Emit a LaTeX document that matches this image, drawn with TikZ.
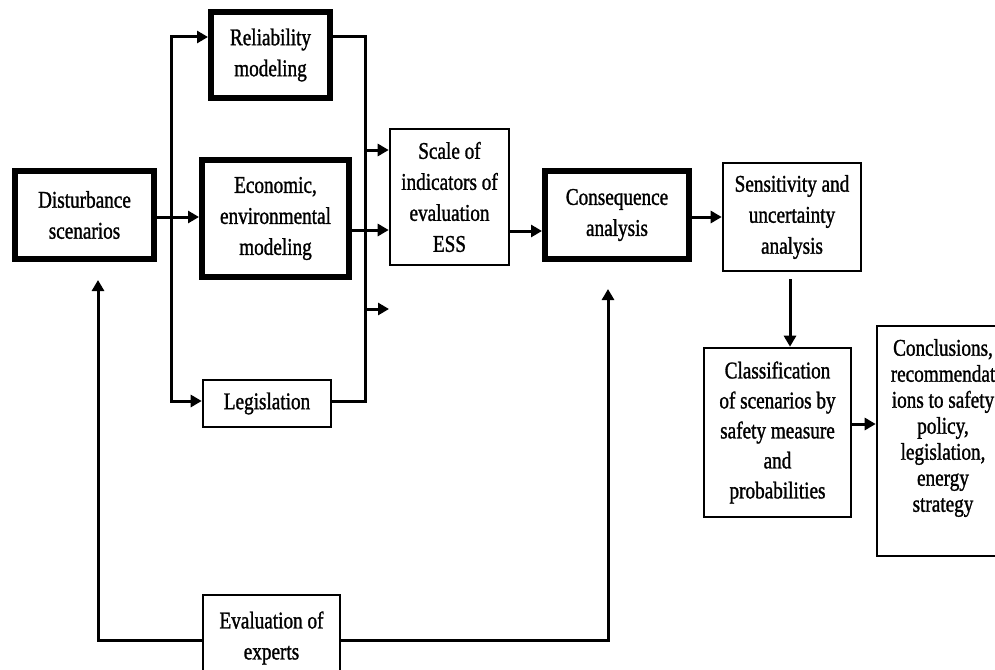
\documentclass[tikz,border=0pt]{standalone}
\usepackage{fontspec}
\setmainfont{Liberation Serif}[FakeStretch=0.8,FakeBold=1.2]
\usetikzlibrary{arrows.meta}
\begin{document}
\begin{tikzpicture}[x=1pt,y=-1pt,
  thickbox/.style={draw,line width=6pt,align=center,inner sep=0pt},
  thinbox/.style={draw,line width=2.6pt,align=center,inner sep=0pt},
  conn/.style={line width=3pt},
  arr/.style={conn,-{Triangle[length=11pt,width=12pt]}},
  font=\fontsize{24}{31}\selectfont]
\clip (0,0) rectangle (995,669);
\fill[white] (0,0) rectangle (995,669);

\node[thickbox,minimum width=139pt,minimum height=88pt] (dist) at (84.5,215) {Disturbance\\scenarios};
\node[thickbox,minimum width=119pt,minimum height=86pt] (rel) at (270.5,55) {Reliability\\modeling};
\node[thickbox,minimum width=147pt,minimum height=117pt] (econ) at (275.5,218.5) {Economic,\\environmental\\modeling};
\node[thinbox,minimum width=128pt,minimum height=47pt] (leg) at (267,403.5) {Legislation};
\node[thinbox,minimum width=119pt,minimum height=136pt] (scale) at (449.5,197) {Scale of\\indicators of\\evaluation\\ESS};
\node[thickbox,minimum width=144pt,minimum height=88pt] (cons) at (617,215) {Consequence\\analysis};
\node[thinbox,minimum width=138pt,minimum height=108pt] (sens) at (792,217) {Sensitivity and\\uncertainty\\analysis};
\node[thinbox,minimum width=147pt,minimum height=169pt,font=\fontsize{24}{30}\selectfont] (class) at (777.5,432.5) {Classification\\of scenarios by\\safety measure\\and\\probabilities};
\node[thinbox,minimum width=132pt,minimum height=230pt,
  label={[align=center,font=\fontsize{24}{26}\selectfont,yshift=13pt]center:Conclusions,\\recommendat\\ions to safety\\policy,\\legislation,\\energy\\strategy}] (concl) at (943,441) {};
\node[thinbox,minimum width=137pt,minimum height=86pt] (eval) at (271.5,638) {Evaluation of\\experts};

\coordinate (hA) at (0,217);
\coordinate (hRel) at (0,37);
\coordinate (hLeg) at (0,401);
\coordinate (xL) at (171,0);
\coordinate (xR) at (365,0);
\coordinate (s1) at (0,150);
\coordinate (s2) at (0,230);
\coordinate (s3) at (0,309);
\coordinate (end3) at (389,309);
\coordinate (hCons) at (0,231);
\coordinate (hSens) at (0,217);
\coordinate (vS) at (790,0);
\coordinate (hC) at (0,424);
\coordinate (loopY) at (0,640);
\coordinate (xLoopL) at (98,0);
\coordinate (xLoopR) at (608,0);

\draw[arr] (dist.east |- hA) -- (econ.west |- hA);
\draw[arr] (xL |- hA) |- (rel.west |- hRel);
\draw[arr] (xL |- hA) |- (leg.west |- hLeg);
\draw[conn] (rel.east |- hRel) -| (xR |- hLeg) -- (leg.east |- hLeg);
\draw[arr] (xR |- s1) -- (scale.west |- s1);
\draw[arr] (econ.east |- s2) -- (scale.west |- s2);
\draw[arr] (xR |- s3) -- (end3);
\draw[arr] (scale.east |- hCons) -- (cons.west |- hCons);
\draw[arr] (cons.east |- hSens) -- (sens.west |- hSens);
\draw[arr,shorten <=7pt] (vS |- sens.south) -- (vS |- class.north);
\draw[arr] (class.east |- hC) -- (concl.west |- hC);
\draw[arr,shorten >=18pt] (eval.west |- loopY) -| (xLoopL |- dist.south);
\draw[arr,shorten >=27pt] (eval.east |- loopY) -| (xLoopR |- cons.south);
\end{tikzpicture}
\end{document}
